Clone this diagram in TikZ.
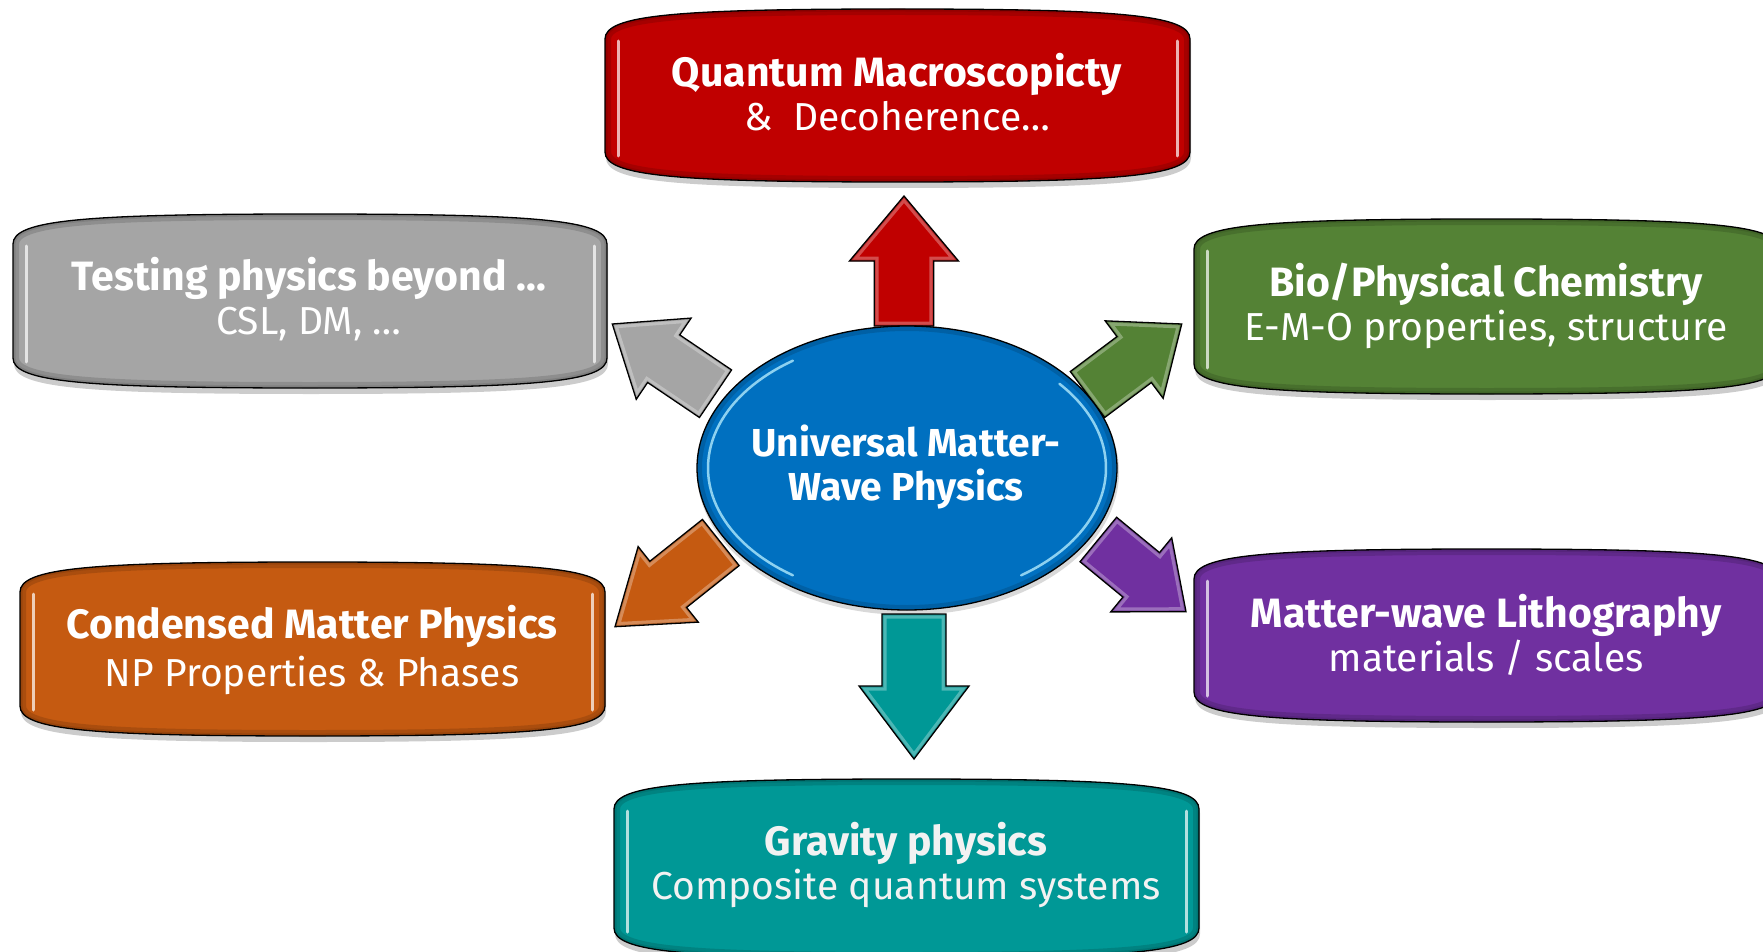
\documentclass[tikz,border=0pt]{standalone}
\usepackage{fontspec}
\setmainfont{Fira Sans}
\usetikzlibrary{calc,shapes.geometric}
\definecolor{cred}{RGB}{192,0,0}
\definecolor{cgray}{RGB}{165,165,165}
\definecolor{cgreen}{RGB}{84,130,53}
\definecolor{corange}{RGB}{197,90,17}
\definecolor{cpurple}{RGB}{112,48,160}
\definecolor{cteal}{RGB}{0,152,150}
\definecolor{cblue}{RGB}{0,112,192}
\newcommand{\sub}{\mdseries\fontsize{39}{44}\selectfont}
\tikzset{
  pill/.style n args={4}{insert path={(#1,#2+30) .. controls (#1,#2+6) and (#1+70,#2) .. ({(#1+#3)/2},#2) .. controls (#3-70,#2) and (#3,#2+6) .. (#3,#2+30) -- (#3,#4-30) .. controls (#3,#4-6) and (#3-70,#4) .. ({(#1+#3)/2},#4) .. controls (#1+70,#4) and (#1,#4-6) .. (#1,#4-30) -- cycle}},
  boxtext/.style={font=\bfseries\fontsize{41}{44}\selectfont, text=white, align=center, inner sep=0pt},
}
\newcommand{\pillbox}[5]{% x1,y1,x2,y2,color
  \fill[black,opacity=0.2] [pill={#1+1}{#2+4}{#3+1}{#4+6}];
  \begin{scope}
    \clip [pill={#1}{#2}{#3}{#4}];
    \fill[#5] [pill={#1}{#2}{#3}{#4}];
    \draw[#5!70!black, line width=12pt, opacity=0.45] [pill={#1}{#2}{#3}{#4}];
    \draw[#5!70!black, line width=5pt, opacity=0.5] [pill={#1}{#2}{#3}{#4}];
  \end{scope}
  \draw[black, line width=1.3pt] [pill={#1}{#2}{#3}{#4}];
  \draw[#5!30!white, line width=3pt, line cap=round] (#1+13,#2+32) -- (#1+13,#4-26);
  \draw[#5!30!white, line width=3pt, line cap=round] (#3-13,#2+32) -- (#3-13,#4-26);
}
\newcommand{\blockarrow}[6]{% color, base, tip, half shaft, half head, head length
  \coordinate (#2h) at ($(#3)!#6!(#2)$);
  \coordinate (#2a) at ($(#2)!#4!90:(#3)$);
  \coordinate (#2b) at ($(#2h)!#4!90:(#3)$);
  \coordinate (#2c) at ($(#2h)!#5!90:(#3)$);
  \coordinate (#2d) at ($(#2h)!#5!-90:(#3)$);
  \coordinate (#2e) at ($(#2h)!#4!-90:(#3)$);
  \coordinate (#2f) at ($(#2)!#4!-90:(#3)$);
  \begin{scope}
    \clip (#2a)--(#2b)--(#2c)--(#3)--(#2d)--(#2e)--(#2f)--cycle;
    \fill[#1] (#2a)--(#2b)--(#2c)--(#3)--(#2d)--(#2e)--(#2f)--cycle;
    \draw[#1!45!white, line width=9pt, opacity=0.55, line join=miter] (#2a)--(#2b)--(#2c)--(#3)--(#2d)--(#2e)--(#2f)--cycle;
    \draw[#1!80!black, line width=3pt, opacity=0.5, line join=miter] (#2a)--(#2b)--(#2c)--(#3)--(#2d)--(#2e)--(#2f)--cycle;
  \end{scope}
  \draw[black, line width=1.3pt, line join=miter] (#2a)--(#2b)--(#2c)--(#3)--(#2d)--(#2e)--(#2f)--cycle;
}
\begin{document}
\begin{tikzpicture}[x=1pt,y=-1pt]
\useasboundingbox (0,0) rectangle (1763,952);
\clip (0,0) rectangle (1763,952);
\fill[white] (0,0) rectangle (1763,952);

% boxes
\pillbox{605}{9}{1190}{182}{cred}
\pillbox{13}{214}{607}{388}{cgray}
\pillbox{1194}{219}{1779}{394}{cgreen}
\pillbox{20}{562}{605}{736}{corange}
\pillbox{1194}{549}{1779}{722}{cpurple}
\pillbox{614}{779}{1199}{958}{cteal}

\node[boxtext] (quant) at (897,92) {Quantum Macroscopicty\\\sub\&\ \ Decoherence…};
\node[boxtext] (test) at (309,299) {Testing physics beyond …\\\sub CSL, DM, …};
\node[boxtext] (bio) at (1486,306) {Bio/Physical Chemistry\\\sub E-M-O properties, structure};
\node[boxtext, font=\bfseries\fontsize{41}{48}\selectfont] (cond) at (312,650) {Condensed Matter Physics\\\mdseries\fontsize{39}{48}\selectfont NP Properties \& Phases};
\node[boxtext] (litho) at (1486,635) {Matter-wave Lithography\\\sub materials / scales};
\node[boxtext, text=white!95!black] (grav) at (906,865) {Gravity physics\\\sub Composite quantum systems};

% arrows
\coordinate (rB) at (904,326); \coordinate (rT) at (904,196);
\coordinate (tB) at (914,614); \coordinate (tT) at (914,759);
\coordinate (gB) at (715.5,393.7); \coordinate (gT) at (612.3,324);
\coordinate (nB) at (1087.5,394.5); \coordinate (nT) at (1181.7,324);
\coordinate (oB) at (720.8,542.5); \coordinate (oT) at (615,626.7);
\coordinate (pB) at (1098.3,539.5); \coordinate (pT) at (1186,611.7);
\blockarrow{cred}{rB}{rT}{29.8pt}{54.5pt}{65pt}
\blockarrow{cteal}{tB}{tT}{32pt}{55pt}{73pt}
\blockarrow{cgray}{gB}{gT}{28.7pt}{49pt}{62pt}
\blockarrow{cgreen}{nB}{nT}{28.7pt}{48.4pt}{59.4pt}
\blockarrow{corange}{oB}{oT}{29.5pt}{48.3pt}{68pt}
\blockarrow{cpurple}{pB}{pT}{28.8pt}{48pt}{58pt}

% central ellipse
\fill[black,opacity=0.15] (908,472) ellipse [x radius=211, y radius=143];
\node[ellipse, minimum width=420pt, minimum height=284pt, inner sep=0pt, fill=cblue] (core) at (907,468) {};
\begin{scope}
  \clip (907,468) ellipse [x radius=210, y radius=142];
  \draw[cblue!70!black, line width=10pt, opacity=0.45] (907,468) ellipse [x radius=210, y radius=142];
\end{scope}
\draw[cyan!35!white, line width=2.5pt, opacity=0.85, line cap=round] plot[domain=125:235, samples=50] ({907+199*cos(\x)}, {468-131*sin(\x)});
\draw[cyan!35!white, line width=2.5pt, opacity=0.85, line cap=round] plot[domain=-55:40, samples=50] ({907+199*cos(\x)}, {468-131*sin(\x)});
\draw[black, line width=1.3pt] (core.center) ellipse [x radius=210, y radius=142];
\node[boxtext, font=\bfseries\fontsize{39}{44}\selectfont] (univ) at (906,467) {Universal Matter-\\Wave Physics};
\end{tikzpicture}
\end{document}
